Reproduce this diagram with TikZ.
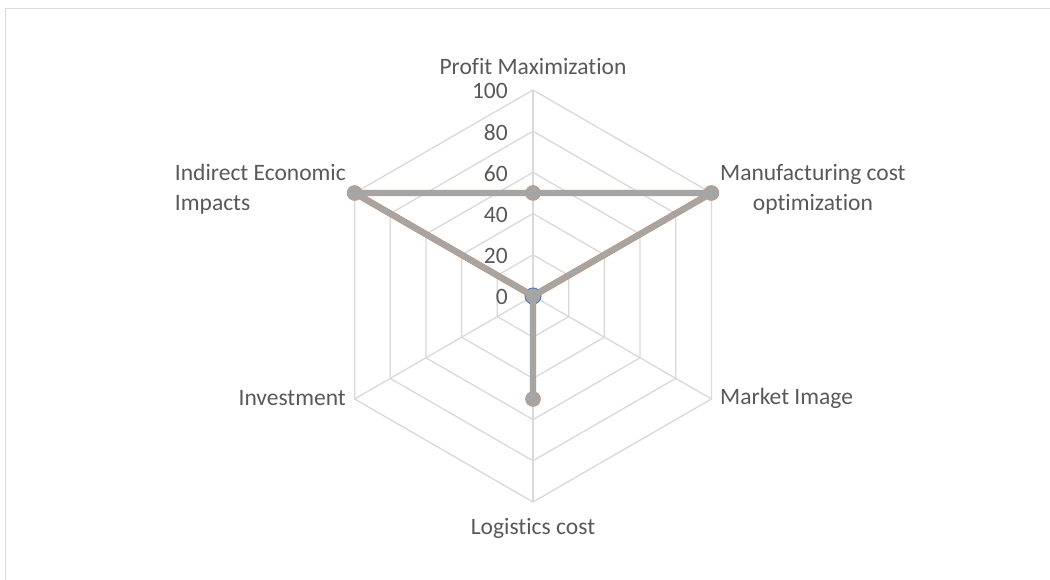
\documentclass[tikz,border=0pt]{standalone}
\usepackage{fontspec}
\setmainfont{Carlito}[Ligatures=CommonOff]
\usetikzlibrary{calc}
\definecolor{gridc}{HTML}{D9D9D9}
\definecolor{txt}{HTML}{595959}
\definecolor{sgray}{HTML}{A5A5A5}
\definecolor{sorange}{HTML}{ED7D31}
\definecolor{sblue}{HTML}{4472C4}
\tikzset{
  lbl/.style={text=txt, font=\fontsize{23.5}{30}\selectfont, inner sep=0pt},
  gridline/.style={draw=gridc, line width=1.3pt},
  serie/.style={line width=#1, line join=round, line cap=round},
  mk/.style={circle, inner sep=0pt, minimum size=#1}
}
\begin{document}
\begin{tikzpicture}[x=1pt,y=1pt]
\useasboundingbox (0,0) rectangle (1050,580);
\fill[white] (0,0) rectangle (1050,580);
% chart border (top and left visible)
\draw[draw=gridc, line width=1.6pt] (5.5,-10) -- (5.5,571.5) -- (1060,571.5);
\coordinate (C) at (533,284);
% grid rings
\foreach \k in {1,...,5}{
  \draw[gridline] ($(C)+(90:41.2*\k)$) -- ($(C)+(30:41.2*\k)$) -- ($(C)+(-30:41.2*\k)$) -- ($(C)+(-90:41.2*\k)$) -- ($(C)+(-150:41.2*\k)$) -- ($(C)+(150:41.2*\k)$) -- cycle;
}
\foreach \a in {90,30,-30,-90,-150,150}{
  \draw[gridline] (C) -- ($(C)+(\a:206)$);
}
% data coordinates
\coordinate (P) at ($(C)+(90:103)$);
\coordinate (M) at ($(C)+(30:206)$);
\coordinate (MI) at (C);
\coordinate (L) at ($(C)+(-90:103)$);
\coordinate (I) at (C);
\coordinate (IE) at ($(C)+(150:206)$);
% blue series (all zero)
\node[mk=17pt, fill=sblue] (b0) at (C) {};
% orange series
\draw[sorange, serie=6.4pt] (P) -- (M) -- (MI) -- (L) -- (I) -- (IE) -- cycle;
\foreach \p in {P,M,L,IE}{ \node[mk=15.5pt, fill=sorange] at (\p) {}; }
% gray series
\draw[sgray, serie=5.8pt] (P) -- (M) -- (MI) -- (L) -- (I) -- (IE) -- cycle;
\foreach \p in {P,M,L,IE}{ \node[mk=15pt, fill=sgray] at (\p) {}; }
\node[mk=15pt, fill=sgray] (g0) at (C) {};
% axis value labels
\foreach \k/\v in {0/0,1/20,2/40,3/60,4/80,5/100}{
  \node[lbl, anchor=east] (v\v) at (508,{284+41.2*\k-1}) {\v};
}
% category labels
\node[lbl] (tP) at (533,513) {Profit Maximization};
\node[lbl, anchor=west, align=center] (tM) at (720,391) {Manufacturing cost\\optimization};
\node[lbl, anchor=west] (tMI) at (720,182) {Market Image};
\node[lbl] (tL) at (533,52) {Logistics cost};
\node[lbl, anchor=east] (tI) at (346,182) {Investment};
\node[lbl, anchor=east, align=left] (tIE) at (346,391) {Indirect Economic\\Impacts};
\end{tikzpicture}
\end{document}
